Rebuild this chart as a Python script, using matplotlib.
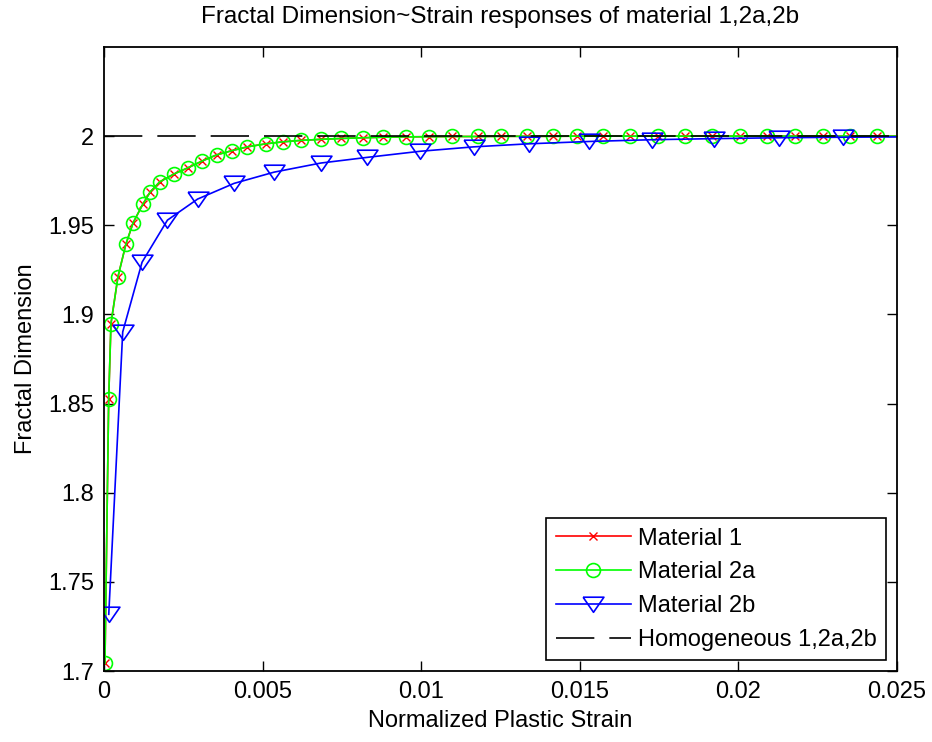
import numpy as np
import matplotlib
matplotlib.use("Agg")
import matplotlib.pyplot as plt

plt.rcParams['font.family'] = ['Liberation Sans', 'DejaVu Sans']

# values
strain_2a = [0.00003, 0.000148, 0.00022, 0.00044, 0.00069, 0.00092, 0.00122, 0.00146,
             0.00176, 0.00221, 0.00264, 0.00309, 0.00355, 0.00402, 0.00452, 0.00510,
             0.00563, 0.00620, 0.00683, 0.00746, 0.00815, 0.00880, 0.00951, 0.01026,
             0.01096, 0.01178, 0.01253, 0.01332, 0.01414, 0.01492, 0.01574, 0.01659,
             0.01747, 0.01832, 0.01917, 0.02006, 0.02091, 0.02179, 0.02267, 0.02352,
             0.02437, 0.02525]
fd_2a = [1.7043, 1.8528, 1.8949, 1.9211, 1.9394, 1.9515, 1.9617, 1.9688,
         1.9744, 1.9788, 1.9822, 1.9860, 1.9895, 1.9918, 1.9940, 1.9957,
         1.9968, 1.9976, 1.9982, 1.9987, 1.9991, 1.9994, 1.9996, 1.9997,
         1.9998, 1.9998, 1.9999, 1.9999, 1.9999, 2.0, 2.0, 2.0,
         2.0, 2.0, 2.0, 2.0, 2.0, 2.0, 2.0, 2.0,
         2.0, 2.0]
strain_1 = strain_2a
fd_1 = fd_2a

strain_2b = [0.00015, 0.00059, 0.00120, 0.00200, 0.00295, 0.00410, 0.00536, 0.00683,
             0.00830, 0.00996, 0.01166, 0.01339, 0.01528, 0.01728, 0.01922, 0.02127,
             0.02331, 0.02535]
fd_2b = [1.7318, 1.8902, 1.9293, 1.9529, 1.9647, 1.9735, 1.9798, 1.9849,
         1.9881, 1.9915, 1.9940, 1.9957, 1.9970, 1.9980, 1.9986, 1.9991,
         1.9994, 1.9996]

homog_x = [0.0, 0.025]
homog_y = [2.0, 2.0]

xticks = [0, 0.005, 0.01, 0.015, 0.02, 0.025]
xticklabels = ['0', '0.005', '0.01', '0.015', '0.02', '0.025']
yticks = [1.7, 1.75, 1.8, 1.85, 1.9, 1.95, 2.0]
yticklabels = ['1.7', '1.75', '1.8', '1.85', '1.9', '1.95', '2']

fig = plt.figure(figsize=(9.32, 7.42), dpi=100)
ax = fig.add_axes([104 / 932, 71 / 742, 793 / 932, 624 / 742])

fs = 17
# downward triangle, wider than tall like the matlab one (closed)
tri = [(-1, 0.7), (1, 0.7), (0, -0.75), (-1, 0.7)]

ax.plot(strain_1, fd_1, color=(1, 0, 0), lw=1.2, marker='x', ms=6, mew=1.0,
        label='Material 1')
ax.plot(strain_2a, fd_2a, color=(0, 1, 0), lw=1.2, marker='o', ms=10, mew=1.2,
        mfc='none', label='Material 2a')
ax.plot(strain_2b, fd_2b, color=(0, 0, 1), lw=1.2, marker=tri, ms=15, mew=1.2,
        mfc='none', label='Material 2b')
ax.plot(homog_x, homog_y, color='k', lw=1.2, ls=(0, (23, 9)),
        label='Homogeneous 1,2a,2b')

ax.set_xlim(0, 0.025)
ax.set_ylim(1.7, 2.05)
ax.set_xticks(xticks)
ax.set_xticklabels(xticklabels)
ax.set_yticks(yticks)
ax.set_yticklabels(yticklabels)
ax.tick_params(direction='in', length=7, width=1.0, labelsize=fs,
               top=True, right=True, pad=7)
for s in ax.spines.values():
    s.set_linewidth(1.3)

ax.set_title('Fractal Dimension~Strain responses of material 1,2a,2b',
             fontsize=17.5, pad=17)
ax.set_xlabel('Normalized Plastic Strain', fontsize=fs, labelpad=5)
ax.set_ylabel('Fractal Dimension', fontsize=fs, labelpad=8)

leg = ax.legend(loc='lower right', fontsize=fs, fancybox=False, framealpha=1,
                edgecolor='k', handlelength=3.2, labelspacing=0.5,
                borderaxespad=0.45, handletextpad=0.3, borderpad=0.4)
leg.get_frame().set_linewidth(1.2)

fig.savefig('out.png', dpi=100, facecolor='white')
